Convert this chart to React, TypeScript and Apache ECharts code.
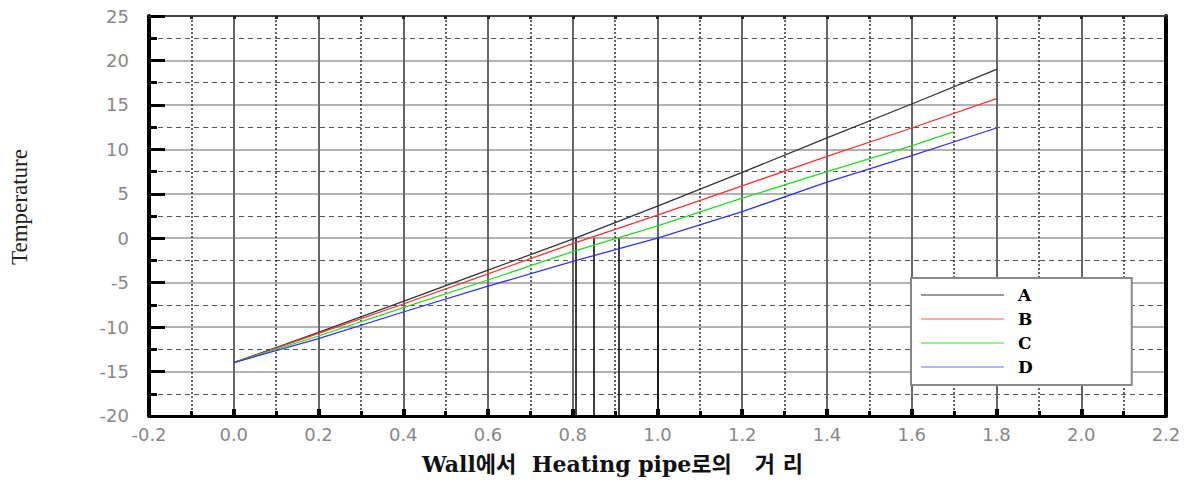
import React, { useEffect, useRef } from "react";
import * as echarts from "echarts";

const xTicks = [-0.2, 0.0, 0.2, 0.4, 0.6, 0.8, 1.0, 1.2, 1.4, 1.6, 1.8, 2.0, 2.2];
const yTicks = [-20, -15, -10, -5, 0, 5, 10, 15, 20, 25];

const seriesNames = ["A", "B", "C", "D"];
const xABD = [0, 0.2, 0.4, 0.6, 0.8, 1.0, 1.2, 1.4, 1.6, 1.8];
const xC = [0, 0.2, 0.4, 0.6, 0.8, 1.0, 1.2, 1.4, 1.6, 1.7];
const valuesA = [-14, -10.6, -7.1, -3.6, -0.1, 3.6, 7.4, 11.3, 15.1, 19.0];
const valuesB = [-14, -10.7, -7.4, -4.0, -0.6, 2.6, 5.9, 9.2, 12.4, 15.7];
const valuesC = [-14, -11.0, -7.8, -4.7, -1.5, 1.4, 4.5, 7.5, 10.4, 12.0];
const valuesD = [-14, -11.3, -8.3, -5.4, -2.6, 0.0, 3.0, 6.3, 9.3, 12.4];
const dropX = [0.807, 0.85, 0.908, 1.0];

const lineColors = ["#333333", "#ff3030", "#22dd22", "#3030ff"];
const legendColors = ["#999999", "#ffaaaa", "#99ee99", "#b4b4ff"];

export default function App() {
  const ref = useRef<HTMLDivElement>(null);
  useEffect(() => {
    if (!ref.current) return;
    const chart = echarts.init(ref.current, undefined, { renderer: "svg" });
    const xs = [xABD, xABD, xC, xABD];
    const ys = [valuesA, valuesB, valuesC, valuesD];
    const xMin = xTicks[0];
    const xMax = xTicks[xTicks.length - 1];
    const yMin = yTicks[0];
    const yMax = yTicks[yTicks.length - 1];
    const series: any[] = seriesNames.map((name, i) => ({
      name,
      type: "line",
      xAxisIndex: 0,
      yAxisIndex: 0,
      showSymbol: false,
      symbol: "none",
      lineStyle: { color: lineColors[i], width: 1.3 },
      itemStyle: { color: lineColors[i] },
      data: xs[i].map((x, j) => [x, ys[i][j]]),
      z: 5,
    }));
    series[0].markLine = {
      silent: true,
      symbol: ["none", "none"],
      label: { show: false },
      lineStyle: { color: "#000", width: 1.5, type: "solid" },
      data: dropX.map((x) => [{ coord: [x, 0] }, { coord: [x, yMin] }]),
    };
    chart.setOption({
      animation: false,
      backgroundColor: "#fff",
      grid: { left: 148, right: 23, top: 16, bottom: 62 },
      legend: {
        orient: "vertical",
        left: 911,
        top: 278,
        padding: [8, 99, 9, 9],
        backgroundColor: "#fff",
        borderColor: "#888",
        borderWidth: 2,
        borderRadius: 0,
        itemWidth: 83,
        itemHeight: 14,
        itemGap: 6,
        textStyle: {
          fontFamily: "DejaVu Serif",
          fontWeight: "bold",
          fontSize: 17,
          lineHeight: 18,
          color: "#000",
          padding: [0, 0, 0, 9],
        },
        data: seriesNames.map((name, i) => ({
          name,
          itemStyle: { color: legendColors[i], opacity: 0, borderWidth: 0 },
          lineStyle: { color: legendColors[i], width: 2, opacity: 1 },
        })),
        z: 10,
      },
      xAxis: [
        {
          type: "value",
          position: "bottom",
          min: xMin,
          max: xMax,
          interval: 0.2,
          name: "Wall에서  Heating pipe로의   거 리",
          nameLocation: "middle",
          nameGap: 37,
          nameTextStyle: {
            fontFamily: "DejaVu Serif, Noto Sans CJK KR",
            fontWeight: "bold",
            fontSize: 22,
            color: "#111",
            padding: [0, 90, 0, 0],
          },
          axisLine: { show: true, onZero: false, lineStyle: { color: "#000", width: 3 } },
          axisTick: { show: true, inside: true, length: 7, lineStyle: { color: "#000", width: 4 } },
          minorTick: { show: true, splitNumber: 2, length: 5, lineStyle: { color: "#000", width: 3 } },
          axisLabel: {
            margin: 10,
            fontFamily: "DejaVu Sans",
            fontSize: 18,
            color: "#888",
            formatter: (v: number) => v.toFixed(1),
          },
          splitLine: { show: true, lineStyle: { color: "#666", width: 2 } },
          minorSplitLine: { show: true, lineStyle: { color: "#333", width: 1.5, type: [2, 2] } },
        },
        {
          type: "value",
          position: "top",
          min: xMin,
          max: xMax,
          interval: 0.2,
          axisLine: { show: true, onZero: false, lineStyle: { color: "#444", width: 2 } },
          axisTick: { show: true, inside: true, length: 3, lineStyle: { color: "#222", width: 3 } },
          minorTick: { show: true, splitNumber: 2, length: 3, lineStyle: { color: "#222", width: 3 } },
          axisLabel: { show: false },
          splitLine: { show: false },
        },
      ],
      yAxis: [
        {
          type: "value",
          position: "left",
          min: yMin,
          max: yMax,
          interval: 5,
          name: "Temperature",
          nameLocation: "middle",
          nameGap: 118,
          nameTextStyle: {
            fontFamily: "Liberation Serif",
            fontSize: 23,
            color: "#222",
            padding: [0, 0, 0, 18],
          },
          axisLine: { show: true, onZero: false, lineStyle: { color: "#000", width: 4 } },
          axisTick: { show: true, inside: true, length: 16, lineStyle: { color: "#000", width: 3 } },
          minorTick: { show: true, splitNumber: 2, length: 8, lineStyle: { color: "#000", width: 3 } },
          axisLabel: {
            margin: 20,
            fontFamily: "DejaVu Sans",
            fontSize: 18,
            color: "#888",
          },
          splitLine: { show: true, lineStyle: { color: "#999", width: 1.5 } },
          minorSplitLine: { show: true, lineStyle: { color: "#555", width: 1.2, type: [5, 4] } },
        },
        {
          type: "value",
          position: "right",
          min: yMin,
          max: yMax,
          interval: 5,
          axisLine: { show: true, onZero: false, lineStyle: { color: "#000", width: 4 } },
          axisTick: { show: false },
          axisLabel: { show: false },
          splitLine: { show: false },
        },
      ],
      series,
    });
    return () => chart.dispose();
  }, []);
  return (
    <div
      ref={ref}
      style={{ position: "fixed", left: 0, top: 0, width: 1189, height: 480 }}
    />
  );
}
